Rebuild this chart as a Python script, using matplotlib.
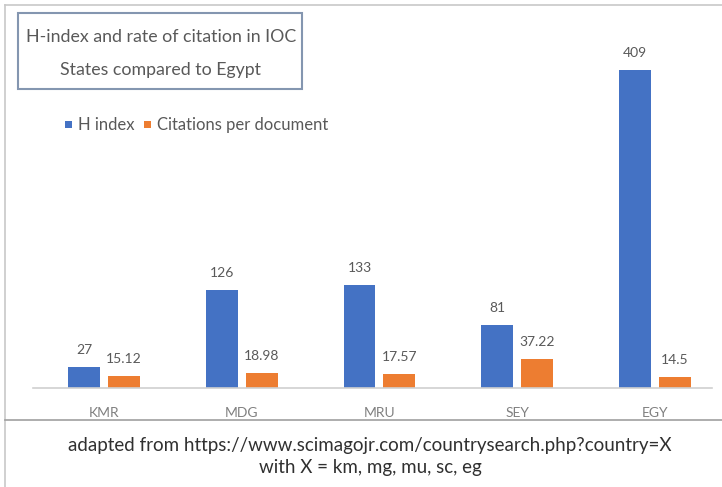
import matplotlib.pyplot as plt
import numpy as np
from matplotlib.patches import Rectangle
from matplotlib.lines import Line2D

countries = ['KMR', 'MDG', 'MRU', 'SEY', 'EGY']
h_index = [27, 126, 133, 81, 409]
citations = [15.12, 18.98, 17.57, 37.22, 14.5]
h_labels = ['27', '126', '133', '81', '409']
c_labels = ['15.12', '18.98', '17.57', '37.22', '14.5']
series_names = ['H index', 'Citations per document']
blue, orange = '#4472C4', '#ED7D31'

plt.rcParams['font.family'] = ['Lato', 'DejaVu Sans']

W, H = 722, 487
fig = plt.figure(figsize=(W / 100, H / 100), dpi=100)

def fx(px):
    return px / W

def fy(py):
    return 1 - py / H

# frame lines of the screenshot
fig.add_artist(Line2D([fx(5), fx(722)], [fy(5), fy(5)], color='#c8c8c8', lw=1.2))
fig.add_artist(Line2D([fx(5), fx(5)], [fy(5), fy(487)], color='#c8c8c8', lw=1.2))
fig.add_artist(Line2D([fx(5), fx(722)], [fy(420), fy(420)], color='#a0a0a0', lw=1.2))

# plot area
ax_left, ax_right = 33, 712
ax_top, ax_bottom = 20, 388
ax = fig.add_axes([fx(ax_left), fy(ax_bottom), fx(ax_right - ax_left), (ax_bottom - ax_top) / H])

x = np.arange(len(countries))
bw = 0.232
off = 0.145
b1 = ax.bar(x - off, h_index, bw, color=blue)
b2 = ax.bar(x + off, citations, bw, color=orange)

for xi, v, t in zip(x, h_index, h_labels):
    ax.text(xi - off, v + 14, t, ha='center', va='bottom', fontsize=10, color='#595959')
for xi, v, t in zip(x, citations, c_labels):
    ax.text(xi + off, v + 14, t, ha='center', va='bottom', fontsize=10, color='#595959')

ax.set_xlim(-0.515, 4.414)
ax.set_ylim(0, (ax_bottom - ax_top) / (318 / 409))
ax.set_xticks(x)
ax.set_xticklabels(countries, fontsize=10, color='#808080')
ax.tick_params(axis='x', length=0, pad=14)
ax.set_yticks([])
for s in ['top', 'right', 'left']:
    ax.spines[s].set_visible(False)
ax.spines['bottom'].set_color('#d0d0d0')
ax.spines['bottom'].set_linewidth(1.2)
ax.patch.set_alpha(0)

# legend
for px, name, col in [(65, series_names[0], blue), (144, series_names[1], orange)]:
    fig.add_artist(Rectangle((fx(px), fy(128)), fx(7), 7 / H, color=col, lw=0))
    fig.text(fx(px + 13), fy(125), name, ha='left', va='center', fontsize=12, color='#595959')

# title box
fig.add_artist(Rectangle((fx(18), fy(89)), fx(302 - 18), (89 - 13) / H,
                         fill=False, edgecolor='#8496b0', lw=1.5))
fig.text(fx(161), fy(37), 'H-index and rate of citation in IOC', ha='center', va='center',
         fontsize=12.8, color='#595959')
fig.text(fx(161), fy(70), 'States compared to Egypt', ha='center', va='center',
         fontsize=12.8, color='#595959')

# source caption
fig.text(fx(370), fy(445), 'adapted from https://www.scimagojr.com/countrysearch.php?country=X',
         ha='center', va='center', fontsize=13.5, color='#303030')
fig.text(fx(370), fy(467), 'with X = km, mg, mu, sc, eg',
         ha='center', va='center', fontsize=13.5, color='#303030')

fig.savefig('out.png', dpi=100)
